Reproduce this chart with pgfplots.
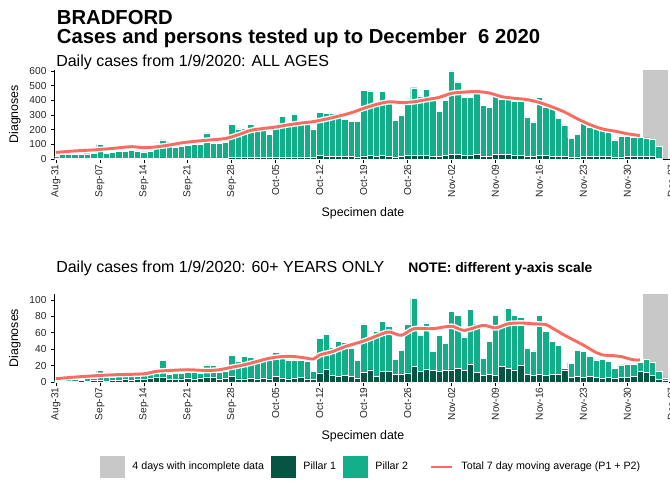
\documentclass[border=0pt]{standalone}
\usepackage{fontspec}
\setmainfont{Liberation Sans}
\usepackage{pgfplots}
\usepackage{pgfplotstable}
\pgfplotsset{compat=1.18}
\definecolor{pone}{RGB}{5,84,68}
\definecolor{ptwo}{RGB}{18,174,138}
\definecolor{mavg}{RGB}{250,108,98}
\definecolor{incomp}{RGB}{200,200,200}

% d = days since 31 Aug 2020; T = total cases (Pillar 1 + Pillar 2); P = Pillar 1
\pgfplotstableread{
d T P
0 22 3
1 30 3
2 32 4
3 33 3
4 34 4
5 36 4
6 38 5
7 100 5
8 40 4
9 45 5
10 50 6
11 55 5
12 58 6
13 55 5
14 48 4
15 55 5
16 110 6
17 130 7
18 118 6
19 80 5
20 88 6
21 92 6
22 98 7
23 100 6
24 178 8
25 110 7
26 108 7
27 115 8
28 235 10
29 205 9
30 210 10
31 235 12
32 200 11
33 198 10
34 170 9
35 210 12
36 289 14
37 232 12
38 307 15
39 243 13
40 255 14
41 205 12
42 316 24
43 310 22
44 310 20
45 300 18
46 270 20
47 255 17
48 255 15
49 470 22
50 464 25
51 365 20
52 459 24
53 385 22
54 263 15
55 300 18
56 410 25
57 486 28
58 430 24
59 475 26
60 400 22
61 323 18
62 400 24
63 600 30
64 525 30
65 420 26
66 420 28
67 480 32
68 365 22
69 352 20
70 425 32
71 410 35
72 410 30
73 395 28
74 391 26
75 288 20
76 253 18
77 422 26
78 356 24
79 345 22
80 278 20
81 232 18
82 143 12
83 166 14
84 241 20
85 220 18
86 207 16
87 195 18
88 183 17
89 130 12
90 157 15
91 157 16
92 150 18
93 148 20
94 145 22
95 134 16
96 84 8
}\topdata

\pgfplotstableread{
d T P
0 2 1
1 3 1
2 3 1
3 4 1
4 4 2
5 5 1
6 5 2
7 14 2
8 6 1
9 6 2
10 7 2
11 7 3
12 7 2
13 8 3
14 8 3
15 9 5
16 16 6
17 26 6
18 10 3
19 11 3
20 11 4
21 12 5
22 12 4
23 11 5
24 21 6
25 20 6
26 12 4
27 13 5
28 33 7
29 25 4
30 31 4
31 30 5
32 25 4
33 26 5
34 27 4
35 36 7
36 34 5
37 27 4
38 27 5
39 26 6
40 25 4
41 13 3
42 53 11
43 58 16
44 42 8
45 50 7
46 48 8
47 41 7
48 26 5
49 71 12
50 57 15
51 62 7
52 74 13
53 68 13
54 28 9
55 39 10
56 71 11
57 102 19
58 57 13
59 72 16
60 37 14
61 57 13
62 47 14
63 86 15
64 81 17
65 55 14
66 89 22
67 72 12
68 29 8
69 50 9
70 81 8
71 69 19
72 90 17
73 81 15
74 79 21
75 41 9
76 38 8
77 81 10
78 62 8
79 50 9
80 45 10
81 17 15
82 23 6
83 39 7
84 37 6
85 31 7
86 27 6
87 28 5
88 25 6
89 17 5
90 21 6
91 22 6
92 22 7
93 24 13
94 28 12
95 24 8
96 13 3
97 5 2
}\botdata

\pgfplotsset{
  panel/.style={
    scale only axis, width=462.5pt, xmin=-0.2, xmax=98, ymin=0,
    axis x line*=bottom, axis y line*=left,
    axis line style={black, line width=0.6pt},
    tick align=outside, major tick length=3pt,
    tick style={black, line width=0.5pt},
    xtick={0,7,...,98},
    xticklabels={Aug-31,Sep-07,Sep-14,Sep-21,Sep-28,Oct-05,Oct-12,Oct-19,Oct-26,Nov-02,Nov-09,Nov-16,Nov-23,Nov-30,Dec-07},
    xticklabel style={rotate=90, anchor=east, font=\fontsize{7.6}{8}\selectfont, inner sep=1pt, text=black!85},
    yticklabel style={font=\fontsize{7.6}{8}\selectfont, inner sep=3pt, text=black!85},
    /pgf/number format/assume math mode=true,
    xlabel={Specimen date}, ylabel={Diagnoses},
    label style={font=\fontsize{9.3}{10}\selectfont},
    xlabel style={at={(axis description cs:0.5,0)}, anchor=base, yshift=-42.75pt, inner sep=0pt},
    ylabel style={at={(axis description cs:-0.0644,0.5)}, anchor=center, inner sep=0pt},
  },
  bars/.style={ybar, bar width=1, bar shift=0pt, draw=white, line width=0.3pt, forget plot},
  halo/.style={white, line width=4.2pt, smooth, forget plot},
  avg/.style={mavg, line width=2.2pt, smooth, forget plot},
  sqlegend/.style={legend image code/.code={\draw[##1, draw=none] (0pt,-8.5pt) rectangle (18.75pt,8.5pt);}},
  linelegend/.style={legend image code/.code={\path[draw=none, fill=none] (0pt,-8.5pt) rectangle (29.25pt,8.5pt);\draw[##1] (12pt,0pt) -- (27.75pt,0pt);}},
}

\begin{document}
\begin{tikzpicture}
% ---------------- top panel ----------------
\begin{axis}[panel, height=67.1pt, ymax=610, ytick={0,100,...,600}]
\addplot[ybar, bar width=4, bar shift=0pt, fill=incomp, draw=none, forget plot] coordinates {(95.5,610)};
\addplot[bars, fill=ptwo] table[x=d, y=T] {\topdata};
\addplot[bars, fill=pone] table[x=d, y=P] {\topdata};
\addplot[halo] coordinates {(0,45)(3,55)(6,62)(9,72)(12,84)(14,77)(16,83)(18,95)(20,110)(22,120)(24,128)(27,140)(29,165)(31,195)(33,208)(35,218)(37,233)(39,245)(41,255)(43,272)(45,292)(47,315)(49,345)(51,372)(53,390)(55,385)(57,390)(59,405)(61,420)(63,448)(65,456)(67,460)(69,450)(71,425)(73,414)(75,405)(77,385)(79,355)(81,320)(83,275)(85,235)(87,205)(89,190)(91,172)(93,160)};
\addplot[avg] coordinates {(0,45)(3,55)(6,62)(9,72)(12,84)(14,77)(16,83)(18,95)(20,110)(22,120)(24,128)(27,140)(29,165)(31,195)(33,208)(35,218)(37,233)(39,245)(41,255)(43,272)(45,292)(47,315)(49,345)(51,372)(53,390)(55,385)(57,390)(59,405)(61,420)(63,448)(65,456)(67,460)(69,450)(71,425)(73,414)(75,405)(77,385)(79,355)(81,320)(83,275)(85,235)(87,205)(89,190)(91,172)(93,160)};
\end{axis}
% ---------------- bottom panel ----------------
\begin{axis}[panel, at={(0pt,-167.25pt)}, height=65.8pt, ymax=107, ytick={0,20,...,100},
  legend columns=4,
  legend style={at={(axis description cs:0.0735,-0.969)}, anchor=west, draw=none, fill=none,
    inner sep=0pt, font=\fontsize{8}{9}\selectfont, nodes={inner sep=0pt},
    /tikz/every odd column/.append style={column sep=5.4pt},
    /tikz/every even column/.append style={column sep=5.4pt}},
  legend cell align=left]
\addplot[ybar, bar width=4, bar shift=0pt, fill=incomp, draw=none, forget plot] coordinates {(95.5,107)};
\addplot[bars, fill=ptwo] table[x=d, y=T] {\botdata};
\addplot[bars, fill=pone] table[x=d, y=P] {\botdata};
\addplot[halo] coordinates {(0,4)(3,6)(7,8)(10,9)(14,10)(16,13)(18,14)(21,15)(24,14)(26,15)(28,18)(30,21)(32,25)(34,29)(36,31)(38,31)(40,29)(41,28)(42,33)(44,37)(46,43)(49,50)(51,56)(53,61)(55,57)(57,65)(60,65)(63,68)(65,63)(68,69)(70,66)(72,71)(74,72)(76,71)(78,70)(79,66)(81,57)(83,49)(84,45)(86,36)(87,33)(89,32)(90,31)(92,27)(93,27)};
\addplot[avg] coordinates {(0,4)(3,6)(7,8)(10,9)(14,10)(16,13)(18,14)(21,15)(24,14)(26,15)(28,18)(30,21)(32,25)(34,29)(36,31)(38,31)(40,29)(41,28)(42,33)(44,37)(46,43)(49,50)(51,56)(53,61)(55,57)(57,65)(60,65)(63,68)(65,63)(68,69)(70,66)(72,71)(74,72)(76,71)(78,70)(79,66)(81,57)(83,49)(84,45)(86,36)(87,33)(89,32)(90,31)(92,27)(93,27)};
\addlegendimage{sqlegend, fill=incomp}
\addlegendentry{4 days with incomplete data}
\addlegendimage{sqlegend, fill=pone}
\addlegendentry{Pillar 1}
\addlegendimage{sqlegend, fill=ptwo}
\addlegendentry{Pillar 2}
\addlegendimage{linelegend, mavg, line width=2.2pt}
\addlegendentry{Total 7 day moving average (P1 + P2)}
\end{axis}
% ---------------- titles ----------------
\node[anchor=base west, inner sep=0pt, font=\fontsize{15.2}{16}\selectfont\bfseries] at (1.5pt,100.5pt) {BRADFORD};
\node[anchor=base west, inner sep=0pt, font=\fontsize{15.2}{16}\selectfont\bfseries] at (1.5pt,86.6pt) {Cases and persons tested up to December\ \ 6 2020};
\node[anchor=base west, inner sep=0pt, font=\fontsize{12}{13}\selectfont] at (1pt,69.2pt) {Daily cases from 1/9/2020: ALL AGES};
\node[anchor=base west, inner sep=0pt, font=\fontsize{12}{13}\selectfont] at (1pt,-85pt) {Daily cases from 1/9/2020: 60+ YEARS ONLY};
\node[anchor=base west, inner sep=0pt, font=\fontsize{10.4}{12}\selectfont\bfseries] at (265pt,-85pt) {NOTE: different y-axis scale};
\pgfresetboundingbox
\useasboundingbox (-41pt,-244.5pt) rectangle (461.5pt,119.25pt);
\end{tikzpicture}
\end{document}
